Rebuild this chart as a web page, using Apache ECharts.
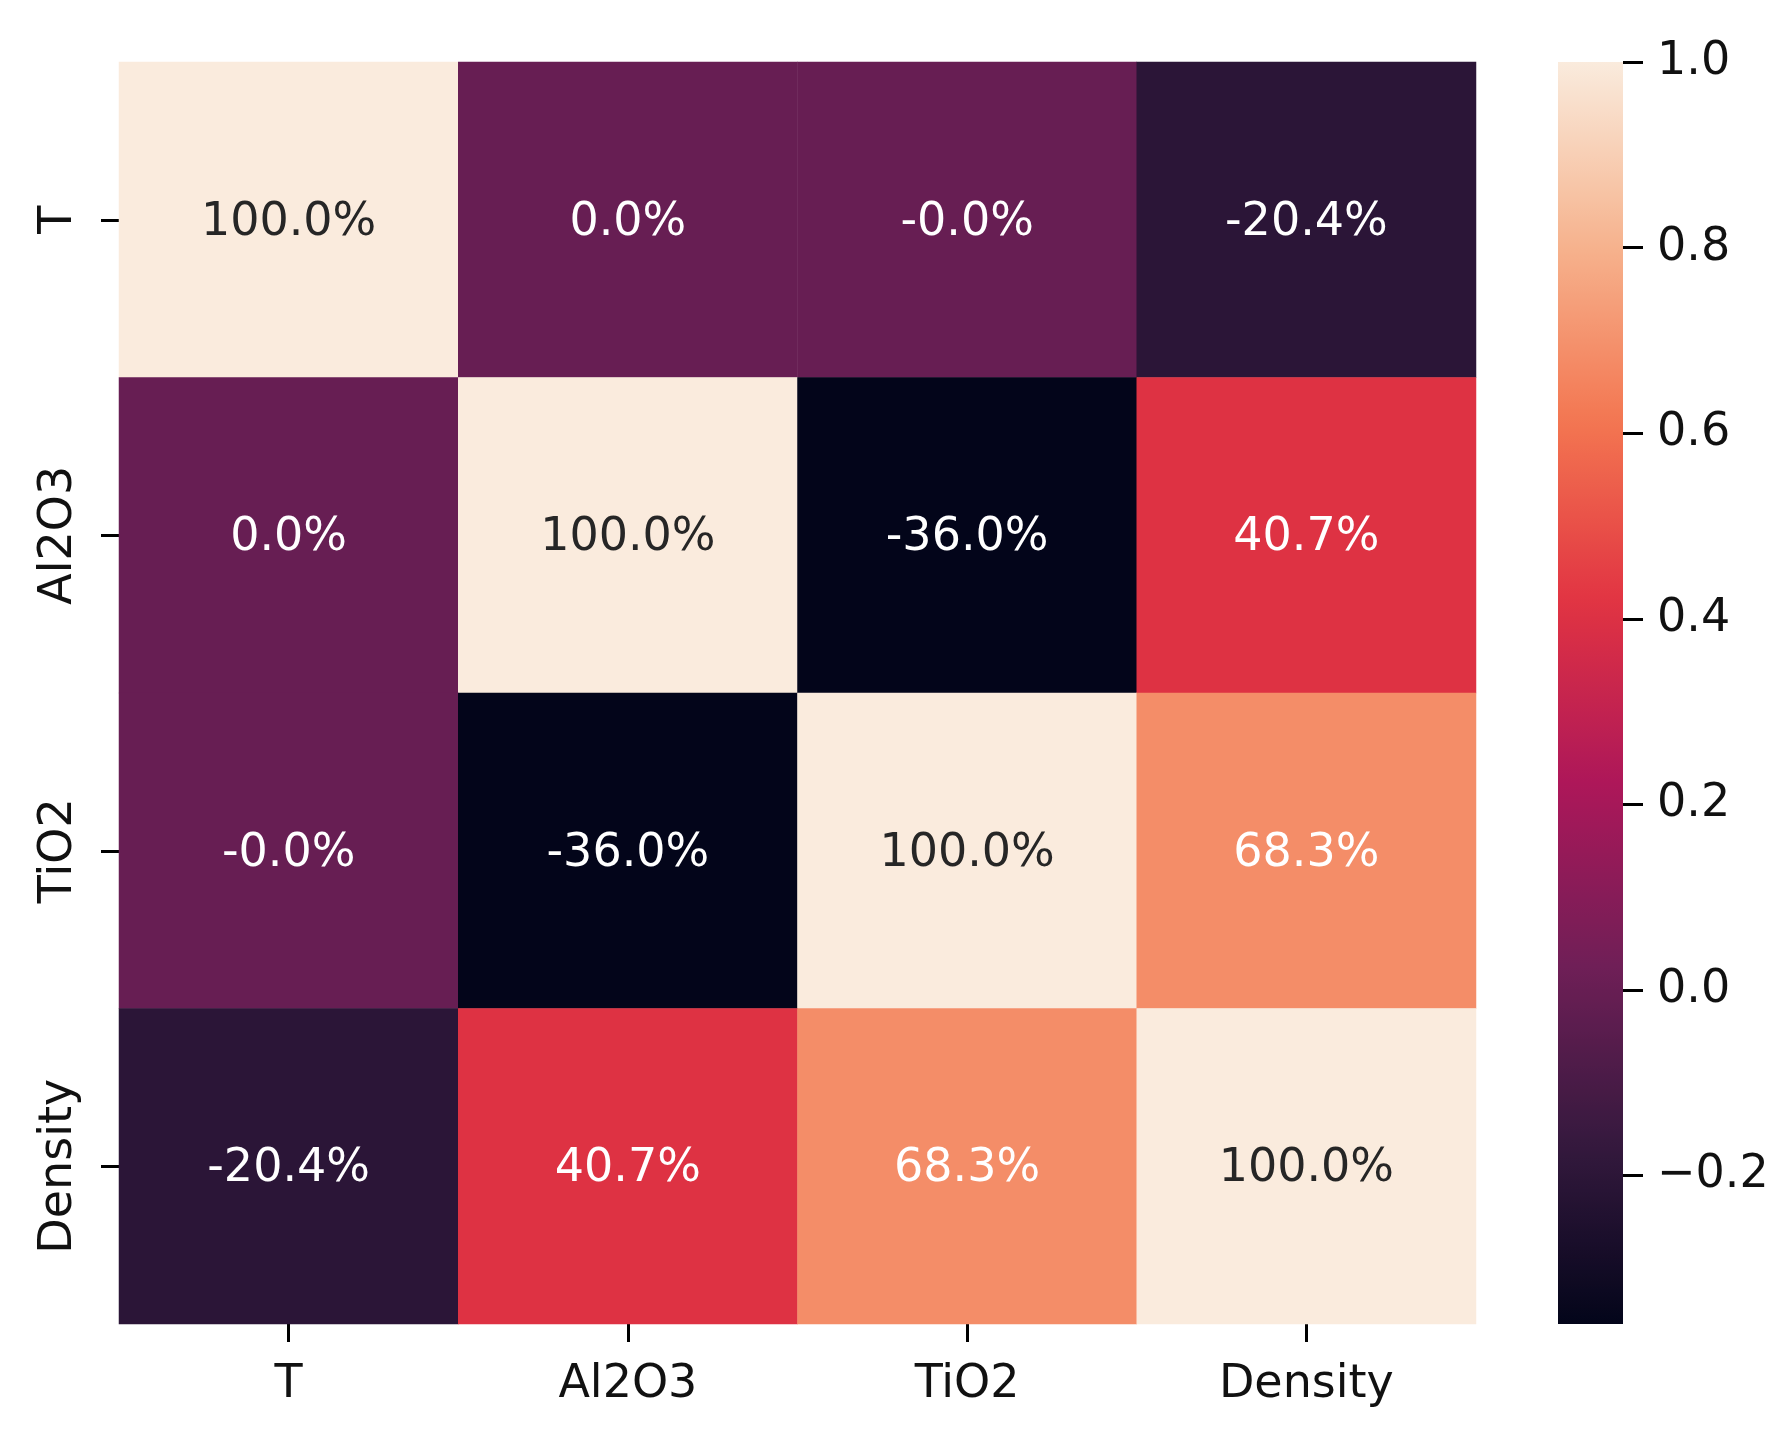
<!DOCTYPE html>
<html>
<head>
<meta charset="utf-8">
<script src="https://cdn.jsdelivr.net/npm/echarts@6/dist/echarts.min.js"></script>
<style>
  html, body { margin: 0; padding: 0; background: #fff; }
  #main { width: 1784px; height: 1437px; }
</style>
</head>
<body>
<div id="main"></div>
<script>
// variables of the correlation matrix
var names = ['T', 'Al2O3', 'TiO2', 'Density'];
// correlation rows (row i, column j)
var rowT = [1.0, 0.0, -0.0001, -0.204];
var rowAl2O3 = [0.0, 1.0, -0.360, 0.407];
var rowTiO2 = [-0.0001, -0.360, 1.0, 0.683];
var rowDensity = [-0.204, 0.407, 0.683, 1.0];
// colour bar range and ticks
var barMin = -0.36;
var barMax = 1.0;
var barTicks = [-0.2, 0.0, 0.2, 0.4, 0.6, 0.8, 1.0];
// rocket colormap stops
var rocket = ['#03051a', '#35193e', '#701f57', '#ad1759', '#e13342', '#f37651', '#f6b48f', '#faebdd'];

var rows = [rowT, rowAl2O3, rowTiO2, rowDensity];
var cells = [];
for (var i = 0; i < rows.length; i++) {
    for (var j = 0; j < rows[i].length; j++) {
        var v = rows[i][j];
        cells.push({
            value: [j, i, v],
            label: { color: v > 0.9 ? '#262626' : '#ffffff' }
        });
    }
}

// gradient for a piece of the colour bar, from value hi (top) down to lo (bottom)
function barGradient(hi, lo) {
    var stops = [];
    var n = 40;
    for (var k = 0; k <= n; k++) {
        var val = hi - (hi - lo) * k / n;
        var t = (val - barMin) / (barMax - barMin);
        stops.push({ offset: k / n, color: echarts.color.lerp(t, rocket) });
    }
    return new echarts.graphic.LinearGradient(0, 0, 0, 1, stops);
}

var font = 'DejaVu Sans';
var myChart = echarts.init(document.getElementById('main'));
var option = {
    backgroundColor: '#fff',
    animation: false,
    grid: [
        { left: 119, top: 62, width: 1357, height: 1262 },
        { left: 1558, top: 62, width: 65, height: 1262 }
    ],
    xAxis: [{
        type: 'category',
        gridIndex: 0,
        data: names,
        axisLine: { show: false },
        axisTick: { show: true, alignWithLabel: true, length: 18, lineStyle: { color: '#000', width: 3 } },
        axisLabel: { color: '#111', fontFamily: font, fontSize: 46, margin: 38 },
        splitLine: { show: false }
    }, {
        type: 'category',
        gridIndex: 1,
        data: ['bar'],
        show: false
    }],
    yAxis: [{
        type: 'category',
        gridIndex: 0,
        inverse: true,
        data: names,
        axisLine: { show: false },
        axisTick: { show: true, alignWithLabel: true, length: 18, lineStyle: { color: '#000', width: 3 } },
        axisLabel: { color: '#111', fontFamily: font, fontSize: 46, rotate: 90, margin: 37 },
        splitLine: { show: false }
    }, {
        type: 'value',
        gridIndex: 1,
        position: 'right',
        min: barMin,
        max: barMax,
        axisLine: { show: false },
        splitLine: { show: false },
        axisTick: { show: true, length: 20, customValues: barTicks, lineStyle: { color: '#000', width: 3 } },
        axisLabel: {
            color: '#111', fontFamily: font, fontSize: 46, margin: 34,
            padding: [14, 0, 0, 0],
            customValues: barTicks,
            formatter: function (v) {
                return (v < 0 ? '\u2212' : '') + Math.abs(v).toFixed(1);
            }
        }
    }],
    visualMap: {
        type: 'continuous',
        show: false,
        seriesIndex: 0,
        min: barMin,
        max: barMax,
        inRange: { color: rocket }
    },
    series: [{
        type: 'heatmap',
        xAxisIndex: 0,
        yAxisIndex: 0,
        data: cells,
        label: {
            show: true,
            fontFamily: font,
            fontSize: 46,
            offset: [0, 3],
            formatter: function (p) {
                return (p.value[2] * 100).toFixed(1) + '%';
            }
        },
        emphasis: { disabled: true }
    }, {
        type: 'bar',
        xAxisIndex: 1,
        yAxisIndex: 1,
        stack: 'cb',
        barWidth: '100%',
        silent: true,
        data: [barMax],
        itemStyle: { color: barGradient(barMax, 0) }
    }, {
        type: 'bar',
        xAxisIndex: 1,
        yAxisIndex: 1,
        stack: 'cb',
        barWidth: '100%',
        silent: true,
        data: [barMin],
        itemStyle: { color: barGradient(0, barMin) }
    }]
};
myChart.setOption(option);
</script>
</body>
</html>
